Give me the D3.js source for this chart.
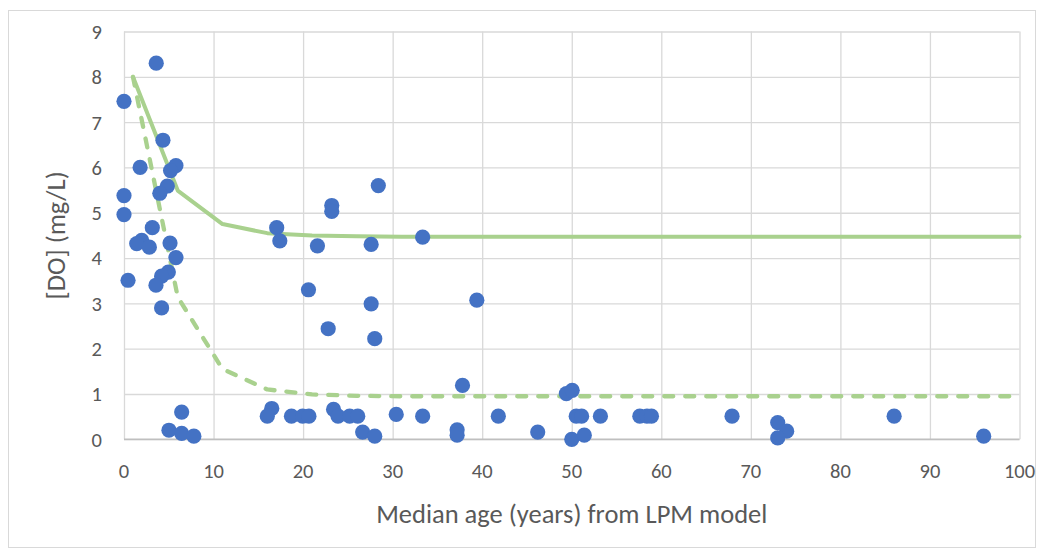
<!DOCTYPE html>
<html>
<head>
<meta charset="utf-8">
<script src="https://cdn.jsdelivr.net/npm/d3@7"></script>
<style>
  html, body { margin: 0; padding: 0; background: #ffffff; }
  svg { display: block; }
  text { font-family: Carlito, Calibri, Lato, "Open Sans", sans-serif; fill: #595959; }
</style>
</head>
<body>
<svg id="chart" width="1044" height="551"></svg>
<script>
// ---- Data ----
// Observed samples: median age (years) from LPM model vs [DO] (mg/L)
const sampleAge = [
  0, 0, 0, 0.45, 3.6, 1.8, 4.35, 5.8, 5.2, 4.84, 4.0, 3.16, 1.98, 1.42, 2.83,
  5.14, 5.8, 4.95, 4.2, 3.57, 4.2, 6.44, 5.02, 6.44, 7.8,
  17.05, 17.4, 21.6, 23.2, 23.2, 28.4, 27.6, 33.35, 20.6, 27.6, 22.8, 28.0,
  16.5, 16.0, 18.7, 19.95, 20.65, 23.4, 23.9, 25.2, 26.1, 26.65, 28.0, 30.4, 33.35,
  37.8, 39.4, 37.2, 37.2, 41.8, 46.2, 49.4, 50.05, 50.5, 51.1, 50.0, 51.4, 53.2,
  57.6, 58.4, 58.9, 67.9, 73.0, 74.0, 73.0, 86.0, 96.0
];
const sampleDO = [
  7.46, 5.38, 4.96, 3.51, 8.3, 6.0, 6.6, 6.04, 5.93, 5.59, 5.43, 4.67, 4.39, 4.32, 4.24,
  4.33, 4.01, 3.69, 3.6, 3.4, 2.9, 0.6, 0.2, 0.13, 0.07,
  4.67, 4.38, 4.27, 5.16, 5.03, 5.6, 4.3, 4.46, 3.3, 2.99, 2.44, 2.22,
  0.68, 0.51, 0.51, 0.51, 0.51, 0.66, 0.51, 0.51, 0.51, 0.16, 0.07, 0.55, 0.51,
  1.19, 3.07, 0.21, 0.09, 0.51, 0.16, 1.01, 1.08, 0.51, 0.51, 0.0, 0.09, 0.51,
  0.51, 0.51, 0.51, 0.51, 0.37, 0.18, 0.03, 0.51, 0.07
];

// Model curves (solid and dashed green lines)
const curveAge  = [1, 6, 11, 16, 21, 26, 31, 36, 100];
const curveHigh = [8.0, 5.49, 4.75, 4.55, 4.5, 4.48, 4.47, 4.47, 4.47];
const curveLow  = [8.0, 3.14, 1.55, 1.1, 0.99, 0.96, 0.95, 0.95, 0.95];

// Axis ticks and labels
const xTicks = [0, 10, 20, 30, 40, 50, 60, 70, 80, 90, 100];
const yTicks = [0, 1, 2, 3, 4, 5, 6, 7, 8, 9];
const xTitle = "Median age (years) from LPM model";
const yTitle = "[DO] (mg/L)";

// ---- Layout ----
const plot = { left: 124, right: 1019.5, top: 31.5, bottom: 439.3 };
const svg = d3.select("#chart");

const x = d3.scaleLinear().domain([0, 100]).range([plot.left, plot.right]);
const y = d3.scaleLinear().domain([0, 9]).range([plot.bottom, plot.top]);

// Outer chart border
svg.append("rect")
  .attr("x", 8.5).attr("y", 10.5)
  .attr("width", 1027).attr("height", 537)
  .attr("fill", "#ffffff")
  .attr("stroke", "#d9d9d9").attr("stroke-width", 1);

// Gridlines via axes
const gx = svg.append("g")
  .attr("transform", `translate(0,${plot.bottom})`)
  .call(d3.axisBottom(x).tickValues(xTicks).tickSize(-(plot.bottom - plot.top)).tickFormat(""));
gx.select(".domain").remove();
gx.selectAll("line").attr("stroke", "#d9d9d9").attr("stroke-width", 1.3);

const gy = svg.append("g")
  .attr("transform", `translate(${plot.left},0)`)
  .call(d3.axisLeft(y).tickValues(yTicks).tickSize(-(plot.right - plot.left)).tickFormat(""));
gy.select(".domain").remove();
gy.selectAll("line").attr("stroke", "#d9d9d9").attr("stroke-width", 1.3);

// Bottom axis line
svg.append("line")
  .attr("x1", plot.left).attr("x2", plot.right)
  .attr("y1", y(0)).attr("y2", y(0))
  .attr("stroke", "#bfbfbf").attr("stroke-width", 1.5);

// Tick labels
const tickFont = 20.5;
svg.append("g").selectAll("text").data(xTicks).join("text")
  .attr("x", d => x(d)).attr("y", 478)
  .attr("text-anchor", "middle")
  .attr("font-size", tickFont)
  .text(d => d);

svg.append("g").selectAll("text").data(yTicks).join("text")
  .attr("x", 102).attr("y", d => y(d))
  .attr("dy", "0.36em")
  .attr("text-anchor", "end")
  .attr("font-size", tickFont)
  .text(d => d);

// Axis titles
svg.append("text")
  .attr("x", (plot.left + plot.right) / 2).attr("y", 523)
  .attr("text-anchor", "middle")
  .attr("font-size", 26.5)
  .text(xTitle);

svg.append("text")
  .attr("transform", `translate(55,${(plot.top + plot.bottom) / 2}) rotate(-90)`)
  .attr("dy", "0.36em")
  .attr("text-anchor", "middle")
  .attr("font-size", 26.5)
  .text(yTitle);

// Model curves
const line = vals => d3.line().x((d, i) => x(curveAge[i])).y(d => y(d))(vals);

svg.append("path")
  .attr("d", line(curveHigh))
  .attr("fill", "none")
  .attr("stroke", "#a9d18e").attr("stroke-width", 4)
  .attr("stroke-linejoin", "round").attr("stroke-linecap", "round");

svg.append("path")
  .attr("d", line(curveLow))
  .attr("fill", "none")
  .attr("stroke", "#a9d18e").attr("stroke-width", 4.3)
  .attr("stroke-dasharray", "9,12")
  .attr("stroke-linejoin", "round").attr("stroke-linecap", "round");

// Sample points
svg.append("g").selectAll("circle").data(sampleAge).join("circle")
  .attr("cx", d => x(d))
  .attr("cy", (d, i) => y(sampleDO[i]))
  .attr("r", 7.6)
  .attr("fill", "#4472c4");
</script>
</body>
</html>
